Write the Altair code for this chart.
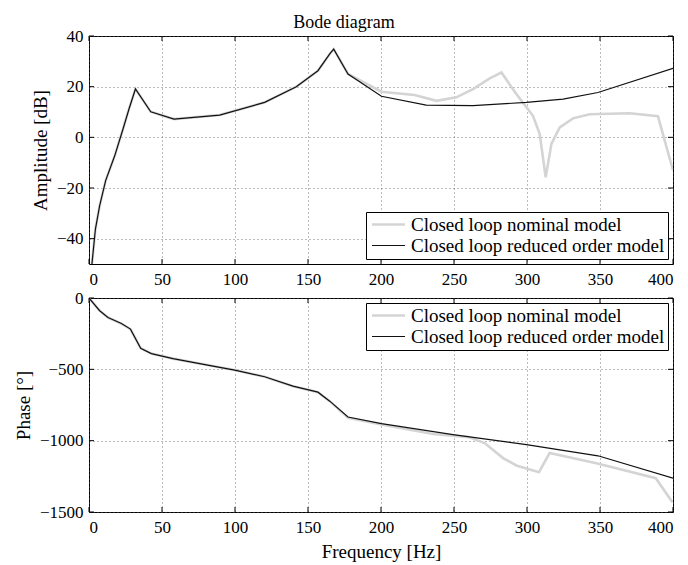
import altair as alt
import pandas as pd

# ---- data ----
amp_red_f = [2, 4.4, 7.3, 11.4, 17.6, 23.3, 27.4, 31.8, 42.3, 58.2, 89.5, 120.3, 142, 156.8, 164.9, 167.6,
             177.4, 200.3, 231, 263, 299.6, 324.7, 348.6, 400]
amp_red_v = [-50, -36.2, -27, -17.1, -7.3, 3.3, 11.2, 19.1, 10.1, 7.2, 8.8, 13.8, 20, 26.3, 32.9, 34.8,
             25, 16.2, 12.7, 12.5, 13.8, 15.1, 17.7, 27.2]

amp_nom_f = [2, 4.4, 7.3, 11.4, 17.6, 23.3, 27.4, 31.8, 42.3, 58.2, 89.5, 120.3, 142, 156.8, 164.9, 167.6,
             177.4, 200.3, 223, 238, 251.6, 263, 274.5, 282.5, 292.7, 304.1, 308.7, 312.8, 316.7, 322.4,
             331.5, 343, 370.3, 389.7, 400]
amp_nom_v = [-50, -36.2, -27, -17.1, -7.3, 3.3, 11.2, 19.1, 10.1, 7.2, 8.8, 13.8, 20, 26.3, 32.9, 34.8,
             25, 18, 16.7, 14.4, 15.8, 19, 23.3, 25.6, 17.1, 8.5, 1.3, -15.8, -2.6, 3.9,
             7.5, 9.1, 9.5, 8.3, -13]

ph_red_f = [0, 7.3, 13, 22.2, 28.4, 35.4, 42.7, 57.5, 84.9, 99.8, 120.3, 139.7, 156.8, 164.9, 177.4,
            200.3, 249.3, 299.6, 348.6, 400]
ph_red_v = [0, -89, -137, -179, -218, -352, -390, -425, -477, -505, -552, -618, -660, -723, -834,
            -880, -958, -1028, -1106, -1263]

ph_nom_f = [0, 7.3, 13, 22.2, 28.4, 35.4, 42.7, 57.5, 84.9, 99.8, 120.3, 139.7, 156.8, 164.9, 177.4,
            200.3, 235.6, 260, 271, 283.6, 292.7, 308.2, 315.5, 347.5, 388.2, 399.6]
ph_nom_v = [0, -89, -137, -179, -218, -352, -390, -425, -477, -505, -552, -618, -660, -723, -840,
            -887, -953, -975, -1017, -1122, -1174, -1221, -1087, -1158, -1263, -1432]

series = ["Closed loop nominal model", "Closed loop reduced order model"]
x_ticks = [0, 50, 100, 150, 200, 250, 300, 350, 400]
amp_ticks = [-40, -20, 0, 20, 40]
ph_ticks = [-1500, -1000, -500, 0]

FONT = "Liberation Serif"
W, H1, H2 = 584, 228, 214


def frame(fs, vs, name):
    return pd.DataFrame({"f": fs, "v": vs, "s": name})


amp = pd.concat([frame(amp_nom_f, amp_nom_v, series[0]), frame(amp_red_f, amp_red_v, series[1])])
ph = pd.concat([frame(ph_nom_f, ph_nom_v, series[0]), frame(ph_red_f, ph_red_v, series[1])])

xscale = alt.Scale(domain=[0, 400], nice=False, zero=False)


def panel(df, ydom, yticks, ytitle, h, legend_orient, show_x_title):
    yscale = alt.Scale(domain=ydom, nice=False, zero=False)
    xaxis = alt.Axis(values=x_ticks, title="Frequency [Hz]" if show_x_title else None,
                     grid=True, ticks=False, labelPadding=7, format="d", titlePadding=7)
    yaxis = alt.Axis(values=yticks, title=ytitle, grid=True, ticks=False, labelPadding=6,
                     format="d", titlePadding=6)
    leg = alt.Legend(title=None, orient=legend_orient, offset=5,
                     strokeColor="black", fillColor="white",
                     padding=3, symbolType="M-2.75,0H2.75", symbolSize=144, symbolOffset=10,
                     labelFont=FONT, labelFontSize=19, labelColor="black",
                     rowPadding=1, labelOffset=13, labelLimit=400)
    lines = alt.Chart(df).mark_line(clip=True).encode(
        x=alt.X("f:Q", scale=xscale, axis=xaxis),
        y=alt.Y("v:Q", scale=yscale, axis=yaxis),
        color=alt.Color("s:N", scale=alt.Scale(domain=series, range=["#d4d4d4", "#111111"]),
                        legend=leg),
        strokeWidth=alt.StrokeWidth("s:N", scale=alt.Scale(domain=series, range=[2.6, 1.2]),
                                    legend=leg),
        order=alt.Order("s:N", sort="ascending"),
    )
    xt = pd.DataFrame({"t": x_ticks})
    yt = pd.DataFrame({"t": yticks})
    tb = alt.Chart(xt).mark_rule(color="black", strokeWidth=1).encode(
        x=alt.X("t:Q", scale=xscale), y=alt.value(h), y2=alt.value(h - 5))
    tt = alt.Chart(xt).mark_rule(color="black", strokeWidth=1).encode(
        x=alt.X("t:Q", scale=xscale), y=alt.value(0), y2=alt.value(5))
    tl = alt.Chart(yt).mark_rule(color="black", strokeWidth=1).encode(
        y=alt.Y("t:Q", scale=yscale), x=alt.value(0), x2=alt.value(5))
    tr = alt.Chart(yt).mark_rule(color="black", strokeWidth=1).encode(
        y=alt.Y("t:Q", scale=yscale), x=alt.value(W), x2=alt.value(W - 5))
    return alt.layer(lines, tb, tt, tl, tr).properties(width=W, height=h)


top = panel(amp, [-50, 40], amp_ticks, "Amplitude [dB]", H1, "bottom-right", False)
bot = panel(ph, [-1500, 0], ph_ticks, "Phase [°]", H2, "top-right", True)

chart = alt.vconcat(top, bot, spacing=0).resolve_scale(
    y="independent", color="independent", strokeWidth="independent"
).resolve_legend(color="independent", strokeWidth="independent").properties(
    title=alt.TitleParams("Bode diagram", font=FONT, fontSize=18, fontWeight="normal",
                          color="black", anchor="middle", offset=-5)
).configure_view(stroke="black", strokeWidth=1).configure_axis(
    labelFont=FONT, labelFontSize=17, labelColor="black", titleFont=FONT, titleFontSize=19,
    titleFontWeight="normal", titleColor="black", gridColor="#555555", gridDash=[1, 3],
    gridOpacity=0.8, domain=False
).configure_concat(spacing=0)

chart.save("out.html", embed_options={"renderer": "svg", "actions": False})
